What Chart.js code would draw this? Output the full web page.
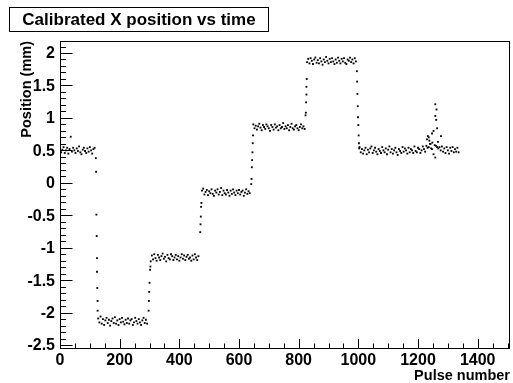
<!DOCTYPE html>
<html>
<head>
<meta charset="utf-8">
<script src="https://cdn.jsdelivr.net/npm/chart.js@4.4.1/dist/chart.umd.min.js"></script>
<style>
  html, body { margin: 0; padding: 0; background: #fff; }
  #box { width: 513px; height: 383px; }
</style>
</head>
<body>
<div id="box"><canvas id="posChart" width="513" height="383"></canvas></div>
<script>
// pulses are sampled every 4 along each flat run
const pulseStep = 4;
const runStarts = [0, 128, 308, 476, 648, 828, 1004];

const run0 = [0.53,0.47,0.51,0.55,0.46,0.50,0.54,0.45,0.52,0.71,0.48,0.54,0.50,0.46,0.53,0.49,0.56,0.47,0.44,0.51,
  0.54,0.49,0.46,0.53,0.48,0.55,0.50,0.45,0.52,0.54];
const run1 = [-2.09,-2.15,-2.06,-2.17,-2.10,-2.19,-2.12,-2.08,-2.16,-2.11,-2.20,-2.13,-2.09,-2.16,-2.07,-2.17,-2.12,-2.19,-2.10,-2.15,
  -2.08,-2.14,-2.18,-2.11,-2.16,-2.09,-2.17,-2.12,-2.10,-2.19,-2.15,-2.08,-2.13,-2.17,-2.10,-2.15,-2.19,-2.12,-2.08,-2.16,-2.11,-2.17];
const run2 = [-1.12,-1.18,-1.10,-1.16,-1.20,-1.11,-1.15,-1.19,-1.13,-1.09,-1.17,-1.14,-1.21,-1.11,-1.16,-1.18,-1.10,-1.13,-1.19,-1.15,
  -1.11,-1.18,-1.13,-1.20,-1.15,-1.10,-1.17,-1.12,-1.19,-1.14,-1.11,-1.17,-1.15,-1.20,-1.12,-1.18,-1.10,-1.15,-1.19,-1.13];
const run3 = [-0.12,-0.09,-0.18,-0.14,-0.11,-0.19,-0.13,-0.16,-0.10,-0.17,-0.20,-0.12,-0.15,-0.10,-0.18,-0.14,-0.08,-0.19,-0.12,-0.16,
  -0.18,-0.11,-0.15,-0.20,-0.12,-0.17,-0.10,-0.15,-0.19,-0.12,-0.16,-0.11,-0.18,-0.14,-0.12,-0.20,-0.15,-0.10,-0.17,-0.13,-0.16];
const run4 = [0.90,0.84,0.88,0.82,0.87,0.91,0.85,0.81,0.89,0.86,0.83,0.90,0.87,0.84,0.80,0.89,0.86,0.82,0.90,0.85,
  0.87,0.81,0.89,0.84,0.86,0.92,0.83,0.87,0.84,0.89,0.81,0.86,0.91,0.84,0.82,0.87,0.89,0.84,0.81,0.86,0.90,0.84,0.87,0.83];
const run5 = [1.86,1.91,1.84,1.92,1.88,1.83,1.90,1.93,1.85,1.89,1.84,1.92,1.87,1.82,1.90,1.86,1.94,1.88,1.84,1.91,
  1.86,1.92,1.87,1.83,1.90,1.85,1.93,1.88,1.84,1.91,1.87,1.92,1.85,1.83,1.90,1.88,1.93,1.86,1.90,1.84,1.92,1.87];
const run6 = [0.55,0.47,0.52,0.45,0.50,0.54,0.44,0.51,0.47,0.53,0.56,0.46,0.50,0.54,0.48,0.44,0.52,0.49,0.46,0.55,
  0.50,0.47,0.53,0.44,0.51,0.56,0.47,0.52,0.45,0.50,0.54,0.47,0.43,0.52,0.49,0.46,0.55,0.48,0.53,0.50,
  0.45,0.54,0.47,0.52,0.50,0.46,0.56,0.49,0.47,0.54,0.52,0.46,0.50,0.56,0.52,0.48,0.57,0.54,
  0.55,0.60,0.53,0.62,0.44,0.58,0.57,0.55,0.53,
  0.55,0.50,0.56,0.48,0.53,0.46,0.55,0.50,0.45,0.54,0.49,0.55,0.47,0.52,0.48,0.54,0.47];
const runs = [run0, run1, run2, run3, run4, run5, run6];

// points caught while the stage was moving
const stepPulses = [120,121,122,123,124,124,125,126,126,
  297,298,299,300,302,303,304,
  470,471,472,473,474,
  641,642,643,644,645,646,647,
  823,824,825,826,826,827,
  995,996,997,998,999,1000,1001,1002,1003];
const stepPositions = [0.38,0.17,-0.49,-0.82,-1.16,-1.37,-1.62,-1.82,-1.97,
  -1.97,-1.82,-1.68,-1.54,-1.34,-1.29,-1.21,
  -0.76,-0.64,-0.52,-0.37,-0.31,
  -0.02,0.06,0.24,0.35,0.47,0.61,0.73,
  1.04,1.08,1.24,1.36,1.48,1.60,
  1.72,1.56,1.37,1.18,1.01,0.89,0.73,0.61,0.53];

// glitch near pulse 1250
const spikePulses = [1230,1233,1236,1238,1242,1247,1247,1252,1258,1258,1258,1261,1262,1264,1267,1277];
const spikePositions = [0.67,0.72,0.70,0.65,0.60,0.76,0.52,0.80,1.21,1.03,0.39,0.97,1.13,0.84,0.63,0.72];

const xTickValues = [0, 200, 400, 600, 800, 1000, 1200, 1400];
const xTickLabels = ["0", "200", "400", "600", "800", "1000", "1200", "1400"];
const yTickValues = [-2.5, -2, -1.5, -1, -0.5, 0, 0.5, 1, 1.5, 2];
const yTickLabels = ["-2.5", "-2", "-1.5", "-1", "-0.5", "0", "0.5", "1", "1.5", "2"];

const points = [];
runs.forEach((vals, r) => {
  vals.forEach((v, i) => points.push({ x: runStarts[r] + i * pulseStep, y: v }));
});
stepPulses.forEach((p, i) => points.push({ x: p, y: stepPositions[i] }));
spikePulses.forEach((p, i) => points.push({ x: p, y: spikePositions[i] }));

const tickFont = "bold 16px 'Liberation Sans', Arial, sans-serif";
const axisTitleFont = "bold 14.5px 'Liberation Sans', Arial, sans-serif";
const headFont = "bold 17px 'Liberation Sans', Arial, sans-serif";

// ROOT-like frame with inward ticks
const rootAxes = {
  id: "rootAxes",
  beforeDraw(chart) {
    const ctx = chart.ctx;
    ctx.save();
    ctx.fillStyle = "#fff";
    ctx.fillRect(0, 0, chart.width, chart.height);
    ctx.restore();
  },
  afterDraw(chart) {
    const ctx = chart.ctx;
    const a = chart.chartArea;
    const xs = chart.scales.x, ys = chart.scales.y;
    ctx.save();
    ctx.strokeStyle = "#000";
    ctx.lineWidth = 1;
    ctx.strokeRect(a.left + 0.5, a.top + 0.5, a.right - a.left, a.bottom - a.top);

    ctx.beginPath();
    for (let v = 0; v <= xs.max; v += 50) {
      const px = Math.round(xs.getPixelForValue(v)) + 0.5;
      const len = v % 200 === 0 ? 9 : 4.5;
      ctx.moveTo(px, a.bottom);
      ctx.lineTo(px, a.bottom - len);
    }
    for (let k = -25; k <= 21; k++) {
      const v = k / 10;
      const py = Math.round(ys.getPixelForValue(v)) + 0.5;
      const len = k % 5 === 0 ? 12.5 : 6;
      ctx.moveTo(a.left, py);
      ctx.lineTo(a.left + len, py);
    }
    ctx.stroke();

    ctx.fillStyle = "#000";
    ctx.font = tickFont;
    ctx.textAlign = "center";
    ctx.textBaseline = "alphabetic";
    xTickValues.forEach((v, i) => {
      ctx.fillText(xTickLabels[i], xs.getPixelForValue(v), 364.5);
    });
    ctx.textAlign = "right";
    ctx.textBaseline = "middle";
    yTickValues.forEach((v, i) => {
      ctx.fillText(yTickLabels[i], 55, ys.getPixelForValue(v) + 1);
    });

    ctx.font = axisTitleFont;
    ctx.textAlign = "right";
    ctx.textBaseline = "alphabetic";
    ctx.fillText("Pulse number", 510, 380);
    ctx.save();
    ctx.translate(31, 41);
    ctx.rotate(-Math.PI / 2);
    ctx.fillText("Position (mm)", 0, 0);
    ctx.restore();

    // title box
    ctx.fillStyle = "#fff";
    ctx.fillRect(9.5, 7.5, 259, 24);
    ctx.strokeRect(9.5, 7.5, 259, 24);
    ctx.fillStyle = "#000";
    ctx.font = headFont;
    ctx.textAlign = "center";
    ctx.fillText("Calibrated X position vs time", 139, 25);
    ctx.restore();
  }
};

new Chart(document.getElementById("posChart"), {
  type: "scatter",
  data: {
    datasets: [{
      label: "X position",
      data: points,
      pointStyle: "rect",
      pointRadius: 1.3,
      pointBorderWidth: 0,
      pointBackgroundColor: "#000",
      pointBorderColor: "#000",
      showLine: false
    }]
  },
  options: {
    responsive: false,
    animation: false,
    devicePixelRatio: 1,
    layout: { padding: { left: 60, top: 41, right: 3, bottom: 35 } },
    plugins: { legend: { display: false }, tooltip: { enabled: false }, title: { display: false } },
    scales: {
      x: { type: "linear", min: 0, max: 1505, display: false },
      y: { type: "linear", min: -2.545, max: 2.185, display: false }
    }
  },
  plugins: [rootAxes]
});
</script>
</body>
</html>
